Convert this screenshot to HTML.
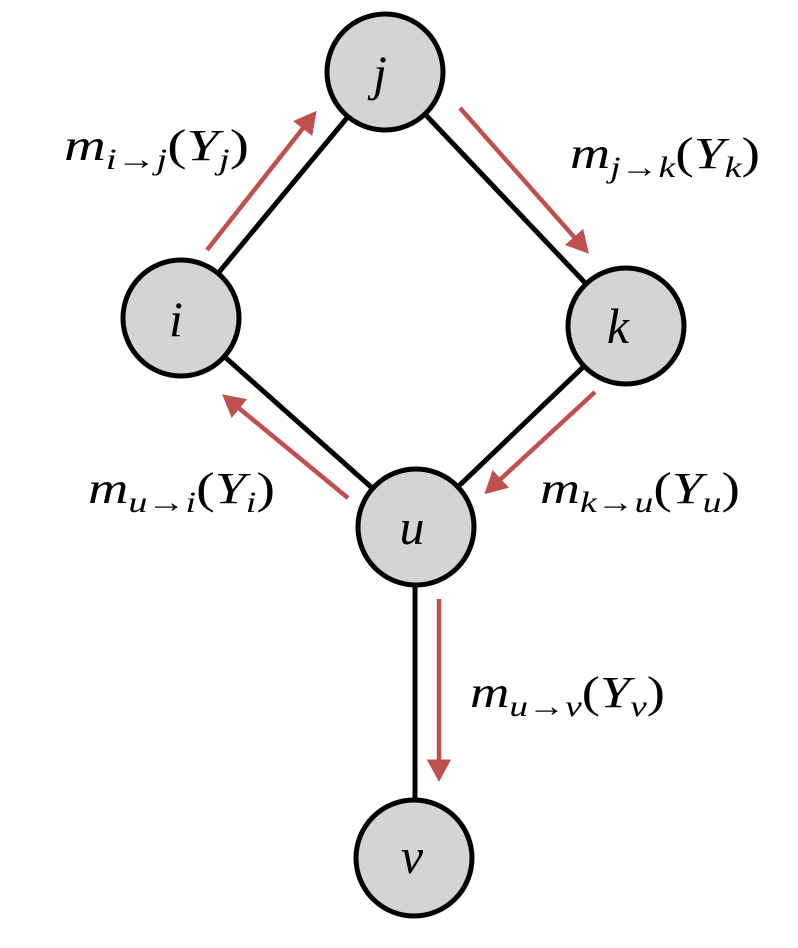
<!DOCTYPE html>
<html><head><meta charset="utf-8"><style>
html,body{margin:0;padding:0;background:#fff;}
svg{display:block;}
text{font-family:"Liberation Serif","DejaVu Serif",serif;}
</style></head><body>
<svg width="798" height="948" viewBox="0 0 798 948" xmlns="http://www.w3.org/2000/svg">
<defs>
<marker id="ah" markerWidth="6" markerHeight="6" refX="3" refY="3" orient="auto" markerUnits="strokeWidth">
<path d="M0,0.3 L5,3 L0,5.7 z" fill="#c0504d"/>
</marker>
</defs>
<g stroke="#000" stroke-width="5">
<line x1="385" y1="72" x2="181" y2="318"/>
<line x1="385" y1="72" x2="626" y2="326"/>
<line x1="181" y1="318" x2="416" y2="527"/>
<line x1="626" y1="326" x2="416" y2="527"/>
<line x1="415" y1="527" x2="415" y2="858"/>
</g>
<g stroke="#c0504d" stroke-width="4.5" marker-end="url(#ah)">
<line x1="207" y1="250" x2="311" y2="118"/>
<line x1="460" y1="108" x2="583" y2="247"/>
<line x1="348" y1="498" x2="229" y2="400"/>
<line x1="595" y1="392" x2="491" y2="488"/>
<line x1="439" y1="599" x2="439" y2="773"/>
</g>
<g fill="#d4d4d6" stroke="#000" stroke-width="5">
<circle cx="385" cy="72" r="58"/>
<circle cx="181" cy="318" r="58"/>
<circle cx="626" cy="326" r="58"/>
<circle cx="416" cy="527" r="58"/>
<circle cx="414" cy="858" r="58"/>
</g>
<g font-size="50" font-style="italic" text-anchor="middle">
<text x="380" y="90">j</text>
<text x="176" y="336">i</text>
<text x="618" y="343">k</text>
<text x="412" y="544">u</text>
<text x="412" y="873">v</text>
</g>
<g font-size="44" font-style="italic">
<text x="64" y="160" textLength="185" lengthAdjust="spacingAndGlyphs">m<tspan font-size="30" dy="9">i→j</tspan><tspan dy="-9" font-style="normal">(</tspan>Y<tspan font-size="30" dy="9">j</tspan><tspan dy="-9" font-style="normal">)</tspan></text>
<text x="570" y="168" textLength="190" lengthAdjust="spacingAndGlyphs">m<tspan font-size="30" dy="9">j→k</tspan><tspan dy="-9" font-style="normal">(</tspan>Y<tspan font-size="30" dy="9">k</tspan><tspan dy="-9" font-style="normal">)</tspan></text>
<text x="88" y="503" textLength="187" lengthAdjust="spacingAndGlyphs">m<tspan font-size="30" dy="9">u→i</tspan><tspan dy="-9" font-style="normal">(</tspan>Y<tspan font-size="30" dy="9">i</tspan><tspan dy="-9" font-style="normal">)</tspan></text>
<text x="540" y="503" textLength="200" lengthAdjust="spacingAndGlyphs">m<tspan font-size="30" dy="9">k→u</tspan><tspan dy="-9" font-style="normal">(</tspan>Y<tspan font-size="30" dy="9">u</tspan><tspan dy="-9" font-style="normal">)</tspan></text>
<text x="470" y="707" textLength="195" lengthAdjust="spacingAndGlyphs">m<tspan font-size="30" dy="9">u→v</tspan><tspan dy="-9" font-style="normal">(</tspan>Y<tspan font-size="30" dy="9">v</tspan><tspan dy="-9" font-style="normal">)</tspan></text>
</g>
</svg>
</body></html>
